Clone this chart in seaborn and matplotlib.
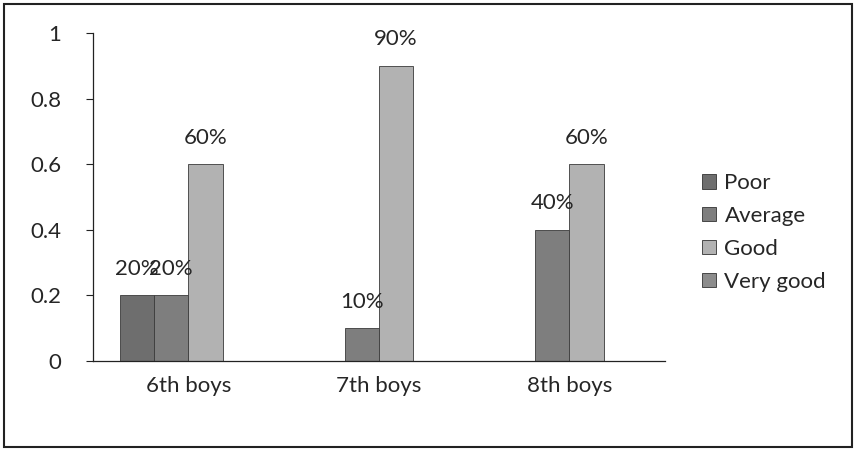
import matplotlib
matplotlib.use('Agg')
import matplotlib.pyplot as plt
from matplotlib.patches import Patch, Rectangle
import seaborn as sns
import pandas as pd

groups = ['6th boys', '7th boys', '8th boys']
series = ['Poor', 'Average', 'Good', 'Very good']
poor = [0.2, 0.0, 0.0]
average = [0.2, 0.1, 0.4]
good = [0.6, 0.9, 0.6]
very_good = [0.0, 0.0, 0.0]
yticks = [0, 0.2, 0.4, 0.6, 0.8, 1]
ytick_labels = ['0', '0.2', '0.4', '0.6', '0.8', '1']

colors = ['#6e6e6e', '#7e7e7e', '#b2b2b2', '#8c8c8c']

rows = []
for name, vals in zip(series, [poor, average, good, very_good]):
    for g, v in zip(groups, vals):
        rows.append({'group': g, 'level': name, 'value': v})
df = pd.DataFrame(rows)

sns.set_style('white')
plt.rcParams['font.family'] = ['Lato', 'DejaVu Sans']

fig = plt.figure(figsize=(8.56, 4.51), dpi=100)
ax = fig.add_axes([0.1086, 0.1996, 0.668, 0.7272])

sns.barplot(data=df, x='group', y='value', hue='level', order=groups,
            hue_order=series, palette=colors, width=0.72, ax=ax,
            edgecolor='#3a3a3a', linewidth=0.6, legend=False)

# value labels, zero bars left unlabeled as in the original
for cont in ax.containers:
    labels = ['' if b.get_height() == 0 else '%d%%' % round(b.get_height() * 100)
              for b in cont]
    ax.bar_label(cont, labels=labels, padding=12, fontsize=16)

ax.set_ylim(0, 1)
ax.set_xlim(-0.5, 2.5)
ax.set_yticks(yticks)
ax.set_yticklabels(ytick_labels, fontsize=16)
ax.set_xlabel('')
ax.set_ylabel('')
ax.tick_params(axis='x', which='major', length=0, labelsize=16, pad=11)
ax.set_xticks([-0.5, 0.5, 1.5, 2.5], minor=True)
ax.tick_params(axis='x', which='minor', length=5, width=0.8, color='#222222', direction='out')
ax.tick_params(axis='y', length=5, width=0.8, color='#222222', direction='out', left=True, pad=18)
for s in ['top', 'right']:
    ax.spines[s].set_visible(False)
for s in ['left', 'bottom']:
    ax.spines[s].set_color('#222222')
    ax.spines[s].set_linewidth(0.9)

handles = [Patch(facecolor=c, edgecolor='#333333', linewidth=0.6) for c in colors]
fig.legend(handles, series, loc='center left', bbox_to_anchor=(0.797, 0.484),
           frameon=False, fontsize=16, handlelength=0.6, handleheight=0.6,
           handletextpad=0.4, labelspacing=0.58)

fig.patches.append(Rectangle((0.005, 0.008), 0.99, 0.984, transform=fig.transFigure,
                             fill=False, edgecolor='#222222', linewidth=1.5))

fig.savefig('out.png', dpi=100)
